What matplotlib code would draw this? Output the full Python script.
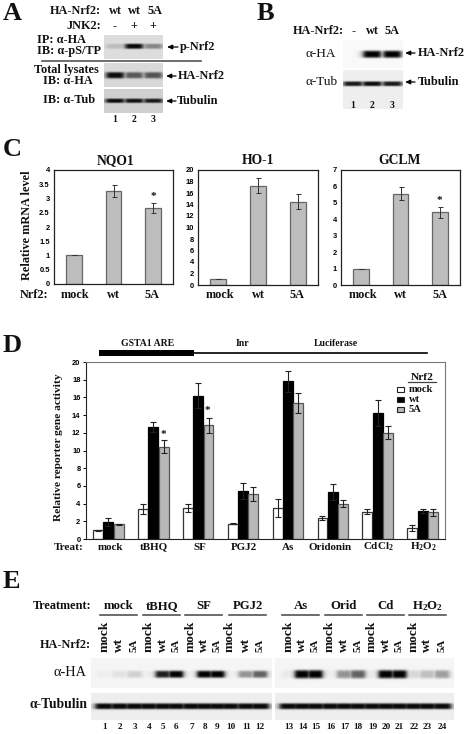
import matplotlib
matplotlib.use('Agg')
import matplotlib.pyplot as plt
import numpy as np
from matplotlib.patches import Rectangle

plt.rcParams['font.family'] = 'Liberation Serif'
plt.rcParams['font.weight'] = 'bold'
plt.rcParams['mathtext.fontset'] = 'custom'
plt.rcParams['mathtext.rm'] = 'Liberation Serif:bold'
plt.rcParams['mathtext.default'] = 'rm'

W, H = 469, 734

# panel C
c_cats = ['mock', 'wt', '5A']
nqo1 = [1.0, 3.25, 2.67]
nqo1_err = [0, 0.21, 0.17]
ho1 = [1.0, 17.3, 14.5]
ho1_err = [0, 1.3, 1.3]
gclm = [1.0, 5.55, 4.43]
gclm_err = [0, 0.4, 0.33]

# panel D
treats = ['mock', 'tBHQ', 'SF', 'PGJ2', 'As', 'Oridonin', 'CdCl$_2$', 'H$_2$O$_2$']
d_mock = [1.0, 3.4, 3.5, 1.75, 3.5, 2.4, 3.1, 1.25]
d_mock_err = [0.05, 0.55, 0.45, 0.08, 1.0, 0.2, 0.3, 0.35]
d_wt = [1.9, 12.65, 16.2, 5.45, 17.8, 5.3, 14.2, 3.15]
d_wt_err = [0.45, 0.6, 1.4, 0.9, 1.2, 0.9, 1.45, 0.25]
d_5a = [1.65, 10.45, 12.85, 5.05, 15.35, 4.0, 12.0, 3.0]
d_5a_err = [0.1, 0.7, 0.85, 0.8, 1.1, 0.4, 0.75, 0.35]

# blot band strength per lane, 0 = nothing, 1 = black
a_pnrf2 = [0.15, 0.97, 0.4]
a_ha = [0.95, 0.6, 0.62]
a_tub = [0.95, 0.92, 0.88]
b_ha = [0.0, 1.0, 1.0]
b_tub = [0.9, 0.95, 0.9]
e_ha_left = [0.03, 0.08, 0.15, 0.03, 0.88, 1.0, 0.02, 1.0, 1.0, 0.02, 0.4, 0.6]
e_ha_right = [0.05, 1.0, 1.0, 0.03, 0.4, 0.6, 0.05, 1.0, 1.0, 0.12, 0.22, 0.35]
e_tub_left = [0.97] * 12
e_tub_right = [0.97] * 12

e_groups = ['mock', 'tBHQ', 'SF', 'PGJ2', 'As', 'Orid', 'Cd', 'H$_2$O$_2$']
e_lane_labels = ['mock', 'wt', '5A']

fig = plt.figure(figsize=(W / 100, H / 100), dpi=100)
# all text and blots go on this one, it sits above the bar axes
ax = fig.add_axes([0, 0, 1, 1])
ax.set_zorder(10)
ax.set_xlim(0, W)
ax.set_ylim(H, 0)
ax.axis('off')


def px_axes(x0, y0, x1, y1):
    return fig.add_axes([x0 / W, 1 - y1 / H, (x1 - x0) / W, (y1 - y0) / H])


def txt(x, y, s, size=8.8, ha='left', **kw):
    ax.text(x, y, s, fontsize=size, ha=ha, va='center', color='#111111', **kw)


def arrow(x0, x1, y):
    ax.annotate('', xy=(x1, y), xytext=(x0, y),
                arrowprops=dict(arrowstyle='-|>,head_width=0.13,head_length=0.3', lw=0.9, color='black',
                                shrinkA=0, shrinkB=0))


def blot(x0, y0, x1, y1, lanes, levels, yc, bw, bh, bg=0.88):
    xs = np.arange(x0, x1, 0.5)
    ys = np.arange(y0, y1, 0.5)
    X, Y = np.meshgrid(xs, ys)
    dark = np.zeros_like(X)
    for lx, lv in zip(lanes, levels):
        sx = 1 / (1 + ((X - lx) / bw) ** 6)
        sy = np.exp(-((Y - yc) / bh) ** 4)
        dark = np.maximum(dark, lv * sx * sy)
    ax.imshow(bg * (1 - dark), cmap='gray', vmin=0, vmax=1, extent=(x0, x1, y1, y0),
              aspect='auto', interpolation='bilinear', zorder=1)


def small_bars(rect, vals, errs, ymax, ticks):
    a = px_axes(*rect)
    a.bar(range(3), vals, width=0.4, color='#bdbdbd', edgecolor='#666666', linewidth=0.9,
          yerr=errs, error_kw=dict(ecolor='#333333', elinewidth=0.7, capsize=1.8, capthick=0.7))
    a.set_xlim(-0.5, 2.5)
    a.set_ylim(0, ymax)
    a.set_yticks(ticks)
    a.set_yticklabels(['%g' % t for t in ticks], fontsize=5.4, family='Liberation Sans', fontweight='bold')
    a.set_xticks([])
    a.tick_params(axis='y', length=0, pad=3)
    for s in a.spines.values():
        s.set_linewidth(0.9)
        s.set_color('#222222')
    return a


# A
txt(3, 14, 'A', size=19)
txt(101, 11, 'HA-Nrf2:', ha='right')
for x, s in zip([115, 134, 155], ['wt', 'wt', '5A']):
    txt(x, 11, s, ha='center')
txt(101, 26, 'JNK2:', ha='right')
for x, s in zip([115, 134, 153], ['-', '+', '+']):
    txt(x, 26, s, ha='center')
txt(37, 40, 'IP: α-HA')
txt(37, 51, 'IB: α-pS/TP')
txt(66, 70, 'Total lysates', ha='center')
txt(43, 81, 'IB: α-HA')
txt(43, 100, 'IB: α-Tub')
a_lanes = [115, 134, 153]
blot(104, 35, 163, 59, a_lanes, a_pnrf2, 46, 9, 2.6, bg=0.87)
blot(104, 63, 163, 87, a_lanes, a_ha, 75, 9, 3.2, bg=0.85)
blot(104, 89, 163, 113, a_lanes, a_tub, 100.5, 9.5, 2.2, bg=0.82)
ax.plot([42, 201], [61, 61], color='#555555', lw=1.2)
arrow(178, 167, 47)
arrow(176, 166, 76)
arrow(176, 166, 101)
txt(180, 47, 'p-Nrf2')
txt(178, 76, 'HA-Nrf2')
txt(177, 101, 'Tubulin')
for x, s in zip(a_lanes, '123'):
    txt(x, 119, s, size=7, ha='center')

# B
txt(257, 14, 'B', size=19)
txt(344, 31, 'HA-Nrf2:', ha='right')
for x, s in zip([354, 372, 392], ['-', 'wt', '5A']):
    txt(x, 31, s, ha='center')
b_lanes = [353, 372, 392]
blot(343, 40, 403, 68, b_lanes, b_ha, 54, 9, 3.6, bg=0.98)
blot(343, 70, 403, 109, b_lanes, b_tub, 83.5, 9.8, 2.4, bg=0.93)
txt(305, 54, 'α-HA', size=9.5, fontweight='normal')
txt(305, 82, 'α-Tub', size=9.5, fontweight='normal')
arrow(415, 405, 53)
arrow(415, 405, 82)
txt(418, 53, 'HA-Nrf2')
txt(418, 82, 'Tubulin')
for x, s in zip(b_lanes, '123'):
    txt(x, 106, s, size=7, ha='center')

# C
txt(3, 149, 'C', size=19)
small_bars((54, 170, 173, 284), nqo1, nqo1_err, 4, [0, 0.5, 1, 1.5, 2, 2.5, 3, 3.5, 4])
small_bars((198, 170, 318, 285), ho1, ho1_err, 20, list(range(0, 21, 2)))
small_bars((341, 170, 460, 285), gclm, gclm_err, 7, list(range(0, 8)))
txt(116, 161, 'NQO1', size=9.8, ha='center')
txt(258, 161, 'HO-1', size=9.8, ha='center')
txt(400, 161, 'GCLM', size=9.8, ha='center')
ax.text(27, 225, 'Relative mRNA level', fontsize=8.8, rotation=90, ha='center', va='center', color='#111111')
txt(20, 295, 'Nrf2:')
for xs in ([75, 113, 152], [220, 258, 297], [363, 400, 440]):
    for x, s in zip(xs, c_cats):
        txt(x, 295, s, ha='center')
txt(153, 196, '*', size=8, ha='center')
txt(439, 200, '*', size=8, ha='center')

# D
txt(3, 346, 'D', size=19)
txt(148, 344, 'GSTA1 ARE', size=7, ha='center')
txt(243, 344, 'Inr', size=7, ha='center')
txt(336, 344, 'Luciferase', size=7, ha='center')
ax.add_patch(Rectangle((99, 350), 95, 6, color='black', lw=0))
ax.plot([194, 427], [353, 353], color='black', lw=1.2)

axd = px_axes(86, 362, 445, 539)
x = np.arange(8)
bw = 0.23
ekw = dict(ecolor='#222222', elinewidth=0.8, capsize=2, capthick=0.8)
axd.bar(x - bw, d_mock, bw * 0.96, color='white', edgecolor='#333333', linewidth=0.9, yerr=d_mock_err, error_kw=ekw)
axd.bar(x, d_wt, bw * 0.96, color='black', edgecolor='black', linewidth=0.9, yerr=d_wt_err, error_kw=ekw)
axd.bar(x + bw, d_5a, bw * 0.96, color='#b8b8b8', edgecolor='#555555', linewidth=0.9, yerr=d_5a_err, error_kw=ekw)
axd.set_xlim(-0.5, 7.5)
axd.set_ylim(0, 20)
axd.set_xticks([])
axd.set_yticks(range(0, 21, 2))
axd.set_yticklabels([str(t) for t in range(0, 21, 2)], fontsize=5.4, family='Liberation Sans', fontweight='bold')
axd.tick_params(axis='y', length=2, width=0.7, pad=2)
axd.spines['left'].set_color('#222222')
axd.spines['bottom'].set_color('#222222')
axd.spines['top'].set_color('#777777')
axd.spines['right'].set_color('#777777')
ax.text(59, 447, 'Relative reporter gene activity', fontsize=8.2, rotation=90, ha='center', va='center', color='#111111')
txt(54, 547, 'Treat:', size=8.2)
for px, s in zip([110, 154, 200, 244, 288, 330, 378, 423], treats):
    txt(px, 547, s, size=7.9, ha='center')
txt(163, 434, '*', size=8, ha='center')
txt(207, 411, '*', size=8, ha='center')

# legend by hand, the rows are tighter than a normal legend allows
txt(422, 377, 'Nrf2', size=8.2, ha='center')
ax.plot([408, 436], [382, 382], color='#444444', lw=0.9)
for yy, c, s in zip([389.5, 399.5, 409.5], ['white', 'black', '#b8b8b8'], ['mock', 'wt', '5A']):
    ax.add_patch(Rectangle((397, yy - 2.8), 7, 5.6, facecolor=c, edgecolor='#222222', lw=0.8))
    txt(409, yy, s, size=7.6)

# E
txt(3, 581, 'E', size=19)
txt(91, 606, 'Treatment:', ha='right')
txt(91, 645, 'HA-Nrf2:', ha='right')
spans = [(100, 136.7), (143.3, 180), (185.3, 221.7), (229.3, 265.7), (282.3, 319), (325.3, 362), (367, 403.7), (409, 445.7)]
for (s0, s1), g in zip(spans, e_groups):
    ax.plot([s0, s1], [615, 615], color='#444444', lw=1.1)
    txt((s0 + s1) / 2, 606, g, size=9.2, ha='center')
e_lanes = [104.3, 119.3, 134.3, 148.3, 162.7, 175.7, 191, 204.3, 217, 230, 245.7, 259.7,
           288.7, 302, 315, 330, 344, 357.7, 372, 385.7, 399, 413.3, 427, 441.7]
for i, lx in enumerate(e_lanes):
    s = e_lane_labels[i % 3]
    ax.text(lx, 652, s, fontsize=9.6 if i % 3 < 2 else 7.8, rotation=90, ha='center', va='bottom', color='#111111')
    txt(lx + 0.5, 727, str(i + 1), size=6.6, ha='center')
blot(91, 658, 272, 688, e_lanes[:12], e_ha_left, 674, 7.5, 3.6, bg=0.96)
blot(275, 658, 454, 688, e_lanes[12:], e_ha_right, 674, 7.5, 4.2, bg=0.96)
blot(91, 693, 272, 720, e_lanes[:12], e_tub_left, 706, 9.5, 3, bg=0.93)
blot(275, 693, 454, 720, e_lanes[12:], e_tub_right, 706, 9.5, 3, bg=0.93)
txt(70, 673, 'α-HA', size=10.4, ha='center', fontweight='normal')
txt(58, 704, 'α-Tubulin', size=9.8, ha='center')

ax.set_xlim(0, W)
ax.set_ylim(H, 0)
fig.savefig('out.png', dpi=100)
